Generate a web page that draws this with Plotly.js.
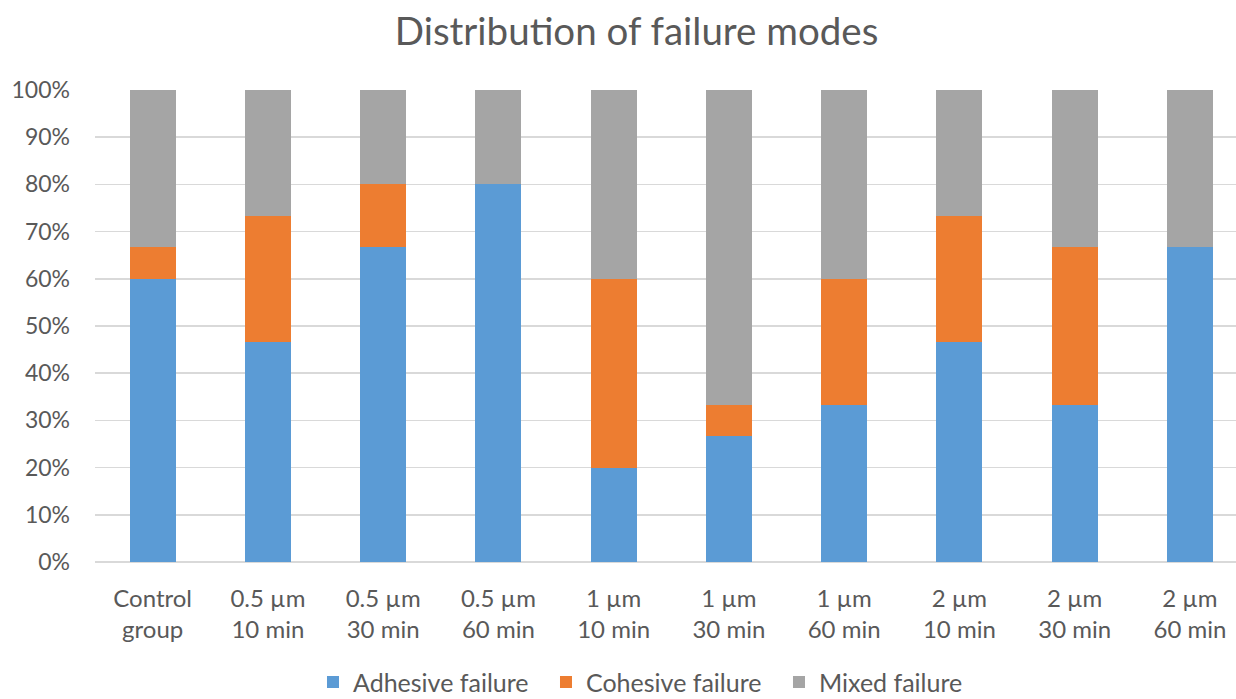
<!DOCTYPE html>
<html><head><meta charset="utf-8">
<script src="https://cdn.plot.ly/plotly-3.0.1.min.js"></script>
<style>html,body{margin:0;padding:0;background:#fff}#chart{width:1236px;height:699px}</style>
</head><body><div id="chart"></div>
<script>
const categories = ["Control<br>group","0.5 µm<br>10 min","0.5 µm<br>30 min","0.5 µm<br>60 min","1 µm<br>10 min","1 µm<br>30 min","1 µm<br>60 min","2 µm<br>10 min","2 µm<br>30 min","2 µm<br>60 min"];
const adhesive = [0.6, 0.4667, 0.6667, 0.8, 0.2, 0.2667, 0.3333, 0.4667, 0.3333, 0.6667];
const cohesive = [0.0667, 0.2667, 0.1333, 0, 0.4, 0.0667, 0.2667, 0.2667, 0.3333, 0];
const mixed = [0.3333, 0.2667, 0.2, 0.2, 0.4, 0.6667, 0.4, 0.2667, 0.3333, 0.3333];
const seriesNames = ["Adhesive failure","Cohesive failure","Mixed failure"];
const colors = ["#5B9BD5","#ED7D31","#A5A5A5"];
const font = "Lato, 'Open Sans', sans-serif";
const x = categories.map((c,i)=>i);
const traces = [adhesive, cohesive, mixed].map((v,k)=>({
  type:"bar", x:x, y:v, name:seriesNames[k], marker:{color:colors[k]}, width:0.4, hoverinfo:"none"
}));
Plotly.newPlot("chart", traces, {
  width:1236, height:699, barmode:"stack",
  margin:{l:95, r:0, t:90, b:137, autoexpand:false},
  paper_bgcolor:"#fff", plot_bgcolor:"#fff",
  font:{family:font, color:"#595959", size:23},
  title:{text:"Distribution of failure modes", font:{family:font, size:38.5, color:"#595959"}, x:0.515, xanchor:"center", y:0.955, yanchor:"middle"},
  xaxis:{tickmode:"array", tickvals:x, ticktext:categories, range:[-0.5, 9.4], showgrid:false, zeroline:false, showline:false, ticks:"", automargin:false, ticklabelstandoff:20, tickfont:{size:24, color:"#595959"}},
  yaxis:{range:[0,1], tickvals:[0,0.1,0.2,0.3,0.4,0.5,0.6,0.7,0.8,0.9,1], tickformat:".0%", gridcolor:"#D9D9D9", gridwidth:1.5, zeroline:true, zerolinecolor:"#D9D9D9", zerolinewidth:1.5, showline:false, ticks:"", automargin:false, ticklabelstandoff:24, tickfont:{size:23, color:"#595959"}},
  showlegend:true,
  legend:{orientation:"h", xref:"container", yref:"container", x:0.536, xanchor:"center", y:0.024, yanchor:"middle", font:{size:25, color:"#595959"}, itemwidth:30, entrywidth:188, entrywidthmode:"pixels", traceorder:"normal"}
}, {staticPlot:true});
</script></body></html>
